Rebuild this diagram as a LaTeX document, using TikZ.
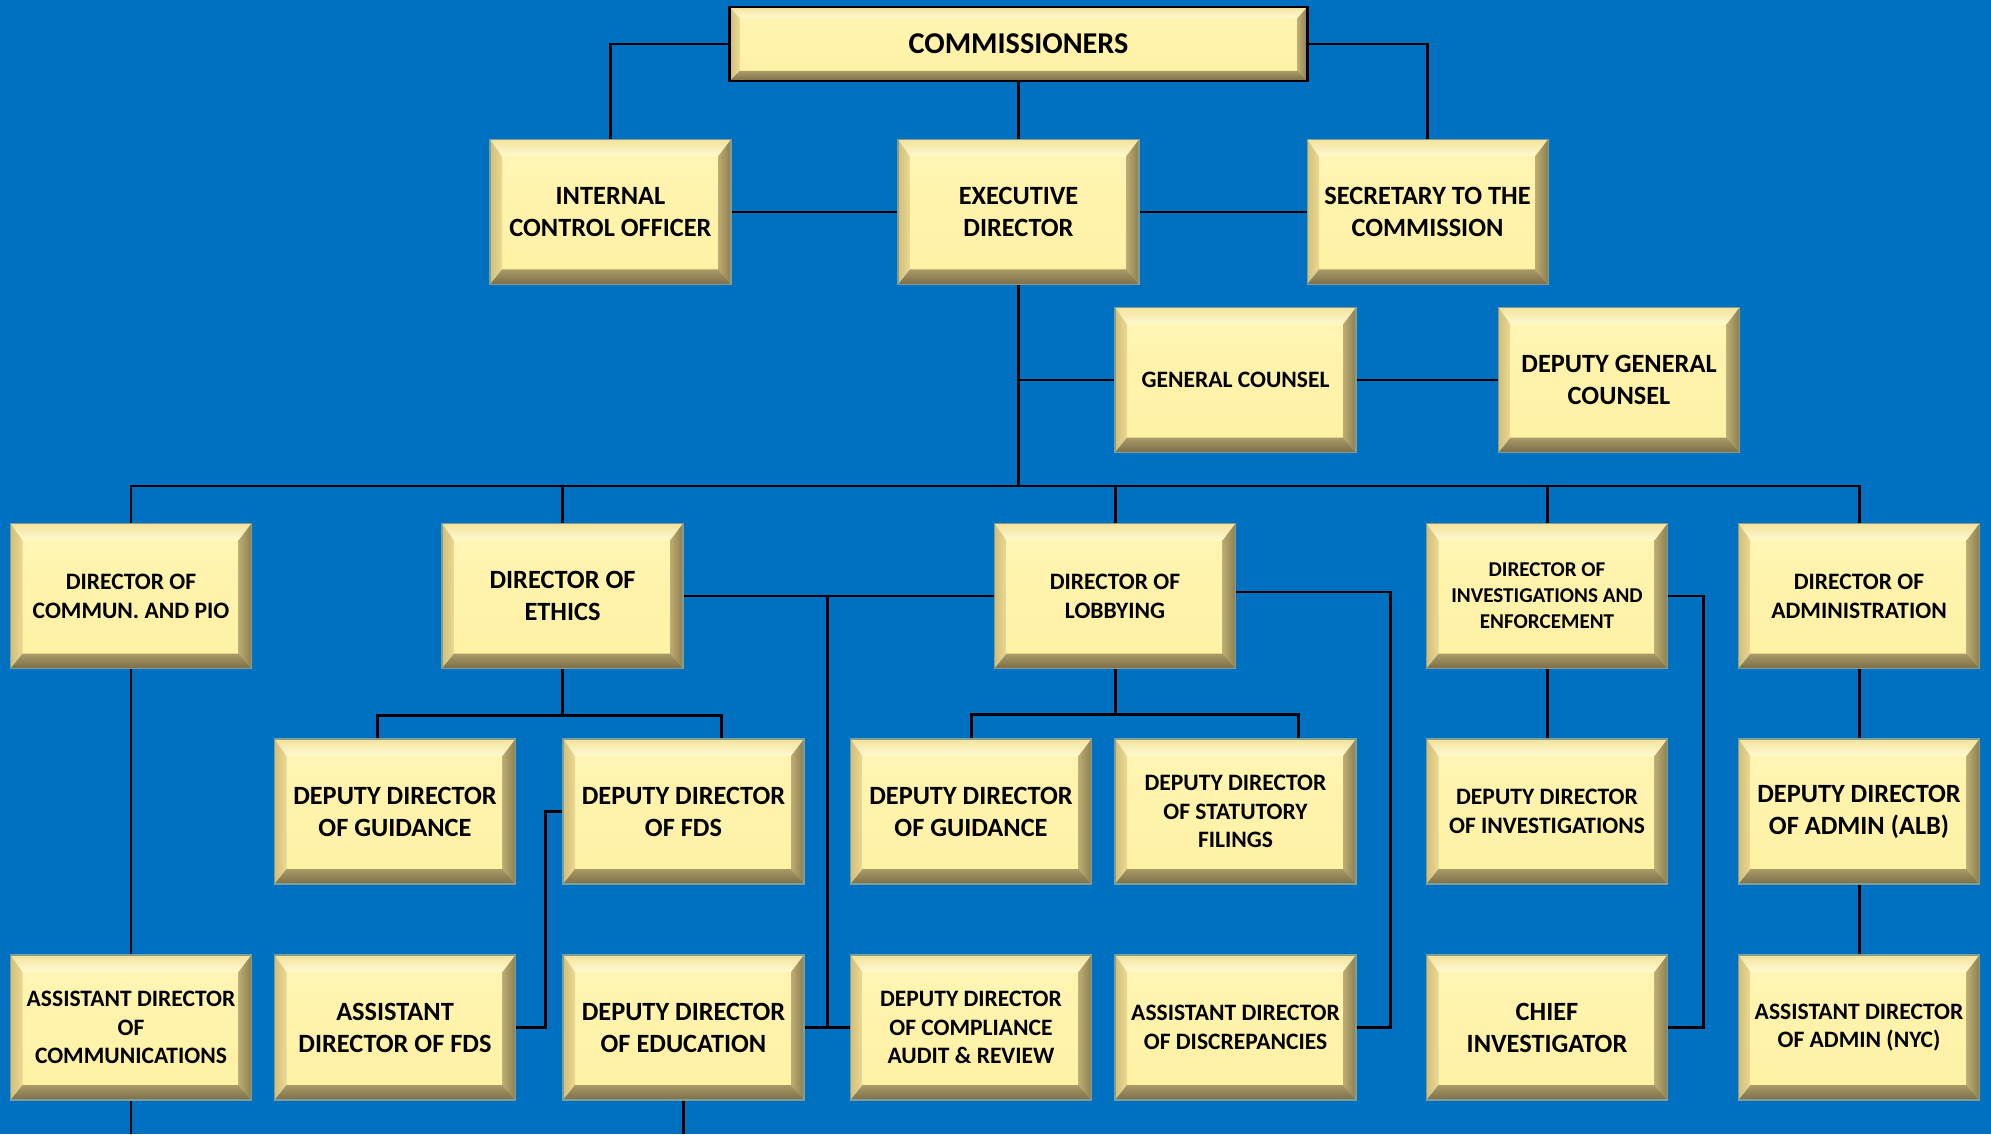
\documentclass[tikz,border=0pt]{standalone}
\usepackage{fontspec}
\setmainfont{Carlito}
\usetikzlibrary{calc}
\definecolor{bgblue}{HTML}{0070C0}
\definecolor{faceT}{HTML}{FFF5B4}
\definecolor{faceB}{HTML}{FFF0A2}
\definecolor{topA}{HTML}{F2E29C}
\definecolor{topB}{HTML}{FFFAD2}
\definecolor{lefA}{HTML}{D2BE78}
\definecolor{lefB}{HTML}{EADA94}
\definecolor{rigA}{HTML}{BDAD72}
\definecolor{rigB}{HTML}{8C7D50}
\definecolor{botA}{HTML}{A99A67}
\definecolor{botB}{HTML}{7C6E48}
\def\bvl{1.2mm}\def\bvr{1.3mm}\def\bvt{1.7mm}\def\bvb{1.5mm}
\tikzset{
  bevel/.style={
    path picture={
      \coordinate (bA) at (path picture bounding box.north west);
      \coordinate (bB) at (path picture bounding box.north east);
      \coordinate (bC) at (path picture bounding box.south east);
      \coordinate (bD) at (path picture bounding box.south west);
      \coordinate (iA) at ($(bA)+(\bvl,-\bvt)$);
      \coordinate (iB) at ($(bB)+(-\bvr,-\bvt)$);
      \coordinate (iC) at ($(bC)+(-\bvr,\bvb)$);
      \coordinate (iD) at ($(bD)+(\bvl,\bvb)$);
      \shade[top color=topA, bottom color=topB] (bA)--(bB)--(iB)--(iA)--cycle;
      \shade[left color=lefA, right color=lefB] (bA)--(iA)--(iD)--(bD)--cycle;
      \shade[left color=rigA, right color=rigB] (bB)--(iB)--(iC)--(bC)--cycle;
      \shade[top color=botA, bottom color=botB] (bD)--(iD)--(iC)--(bC)--cycle;
    }},
  box/.style={bevel, minimum width=24.1mm, minimum height=14.5mm, inner sep=0pt,
    align=center, top color=faceT, bottom color=faceB, text=black,
    draw=lefA!60!bgblue, line width=0.3pt},
  lg/.style={box, font=\fontsize{7.5pt}{9.1pt}\selectfont\bfseries},
  md/.style={box, font=\fontsize{6.7pt}{8.2pt}\selectfont\bfseries},
  sm/.style={box, font=\fontsize{6.0pt}{7.4pt}\selectfont\bfseries},
  topbox/.style={bevel, minimum width=57.8mm, minimum height=7.4mm, inner sep=0pt,
    top color=faceT, bottom color=faceB, draw=black, line width=0.8pt,
    font=\fontsize{8.6pt}{10pt}\selectfont\bfseries,
    /utils/exec={\def\bvl{1.0mm}\def\bvr{1.0mm}\def\bvt{1.1mm}\def\bvb{1.0mm}}},
  conn/.style={draw=black, line width=0.85pt}
}
\begin{document}
\begin{tikzpicture}[x=0.1mm,y=-0.1mm]
\fill[bgblue] (0,0) rectangle (1991,1134);
\useasboundingbox (0,0) rectangle (1991,1134);
\coordinate (pageB) at (0,1134);
\coordinate (bus) at (1018.5,486);
\coordinate (ethL) at (377,715);
\coordinate (ethR) at (721,715);
\coordinate (ev) at (827,596);
\coordinate (lr) at (1390,592);
\coordinate (lbL) at (971,714);
\coordinate (lbR) at (1298,714);
\coordinate (ir) at (1703,596);
\coordinate (fv) at (545,811.5);

% nodes
\node[topbox] (comm) at (1018.5,44) {COMMISSIONERS};
\node[lg] (ico) at (610.5,212) {INTERNAL\\CONTROL OFFICER};
\node[lg] (ed) at (1018.5,212) {EXECUTIVE\\DIRECTOR};
\node[lg] (sec) at (1427.5,212) {SECRETARY TO THE\\COMMISSION};
\node[md] (gc) at (1235.5,380) {GENERAL COUNSEL};
\node[lg] (dgc) at (1619,380) {DEPUTY GENERAL\\COUNSEL};

\node[md] (commun) at (131,596) {DIRECTOR OF\\COMMUN. AND PIO};
\node[lg] (ethics) at (562.5,596) {DIRECTOR OF\\ETHICS};
\node[md] (lobby) at (1115,596) {DIRECTOR OF\\LOBBYING};
\node[sm] (invest) at (1547,596) {DIRECTOR OF\\INVESTIGATIONS AND\\ENFORCEMENT};
\node[md] (admin) at (1859,596) {DIRECTOR OF\\ADMINISTRATION};

\node[lg] (ddg1) at (395,811.5) {DEPUTY DIRECTOR\\OF GUIDANCE};
\node[lg] (ddfds) at (683.5,811.5) {DEPUTY DIRECTOR\\OF FDS};
\node[lg] (ddg2) at (971,811.5) {DEPUTY DIRECTOR\\OF GUIDANCE};
\node[md] (ddsf) at (1235.5,811.5) {DEPUTY DIRECTOR\\OF STATUTORY\\FILINGS};
\node[md] (ddinv) at (1547,811.5) {DEPUTY DIRECTOR\\OF INVESTIGATIONS};
\node[lg] (ddadm) at (1859,811.5) {DEPUTY DIRECTOR\\OF ADMIN (ALB)};

\node[md] (adcomm) at (131,1027.5) {ASSISTANT DIRECTOR\\OF\\COMMUNICATIONS};
\node[lg] (adfds) at (395,1027.5) {ASSISTANT\\DIRECTOR OF FDS};
\node[lg] (dded) at (683.5,1027.5) {DEPUTY DIRECTOR\\OF EDUCATION};
\node[md] (ddcomp) at (971,1027.5) {DEPUTY DIRECTOR\\OF COMPLIANCE\\AUDIT \& REVIEW};
\node[md] (addisc) at (1235.5,1027.5) {ASSISTANT DIRECTOR\\OF DISCREPANCIES};
\node[lg] (chief) at (1547,1027.5) {CHIEF\\INVESTIGATOR};
\node[md] (adnyc) at (1859,1027.5) {ASSISTANT DIRECTOR\\OF ADMIN (NYC)};

% connectors
\draw[conn] (comm.west) -| (ico.north);
\draw[conn] (comm.east) -| (sec.north);
\draw[conn] (comm.south) -- (ed.north);
\draw[conn] (ico.east) -- (ed.west);
\draw[conn] (ed.east) -- (sec.west);
\draw[conn] (ed.south) -- (bus);
\draw[conn] (ed.south |- gc.west) -- (gc.west);
\draw[conn] (gc.east) -- (dgc.west);
\draw[conn] (commun.north) |- (bus) -| (admin.north);
\draw[conn] (ethics.north) -- (ethics.north |- bus);
\draw[conn] (lobby.north) -- (lobby.north |- bus);
\draw[conn] (invest.north) -- (invest.north |- bus);

\draw[conn] (commun.south) -- (adcomm.north);
\draw[conn] (adcomm.south) -- (adcomm.south |- pageB);
\draw[conn] (dded.south) -- (dded.south |- pageB);

\draw[conn] (ethics.south) -- (ethics.south |- ethL);
\draw[conn] (ddg1.north -| ethL) -- (ethL) -- (ethR) -- (ddfds.north -| ethR);
\draw[conn] (ethics.east) -- (lobby.west);
\draw[conn] (ev) -- (ev |- dded.east);
\draw[conn] (dded.east) -- (ddcomp.west);

\draw[conn] (lobby.east |- lr) -- (lr) |- (addisc.east);
\draw[conn] (lobby.south) -- (lobby.south |- lbL);
\draw[conn] (ddg2.north) -- (lbL) -- (lbR) -- (ddsf.north -| lbR);

\draw[conn] (invest.east) -- (ir) |- (chief.east);
\draw[conn] (invest.south) -- (ddinv.north);
\draw[conn] (admin.south) -- (ddadm.north);
\draw[conn] (ddadm.south) -- (adnyc.north);

\draw[conn] (ddfds.west) -- (fv) |- (adfds.east);
\end{tikzpicture}
\end{document}
